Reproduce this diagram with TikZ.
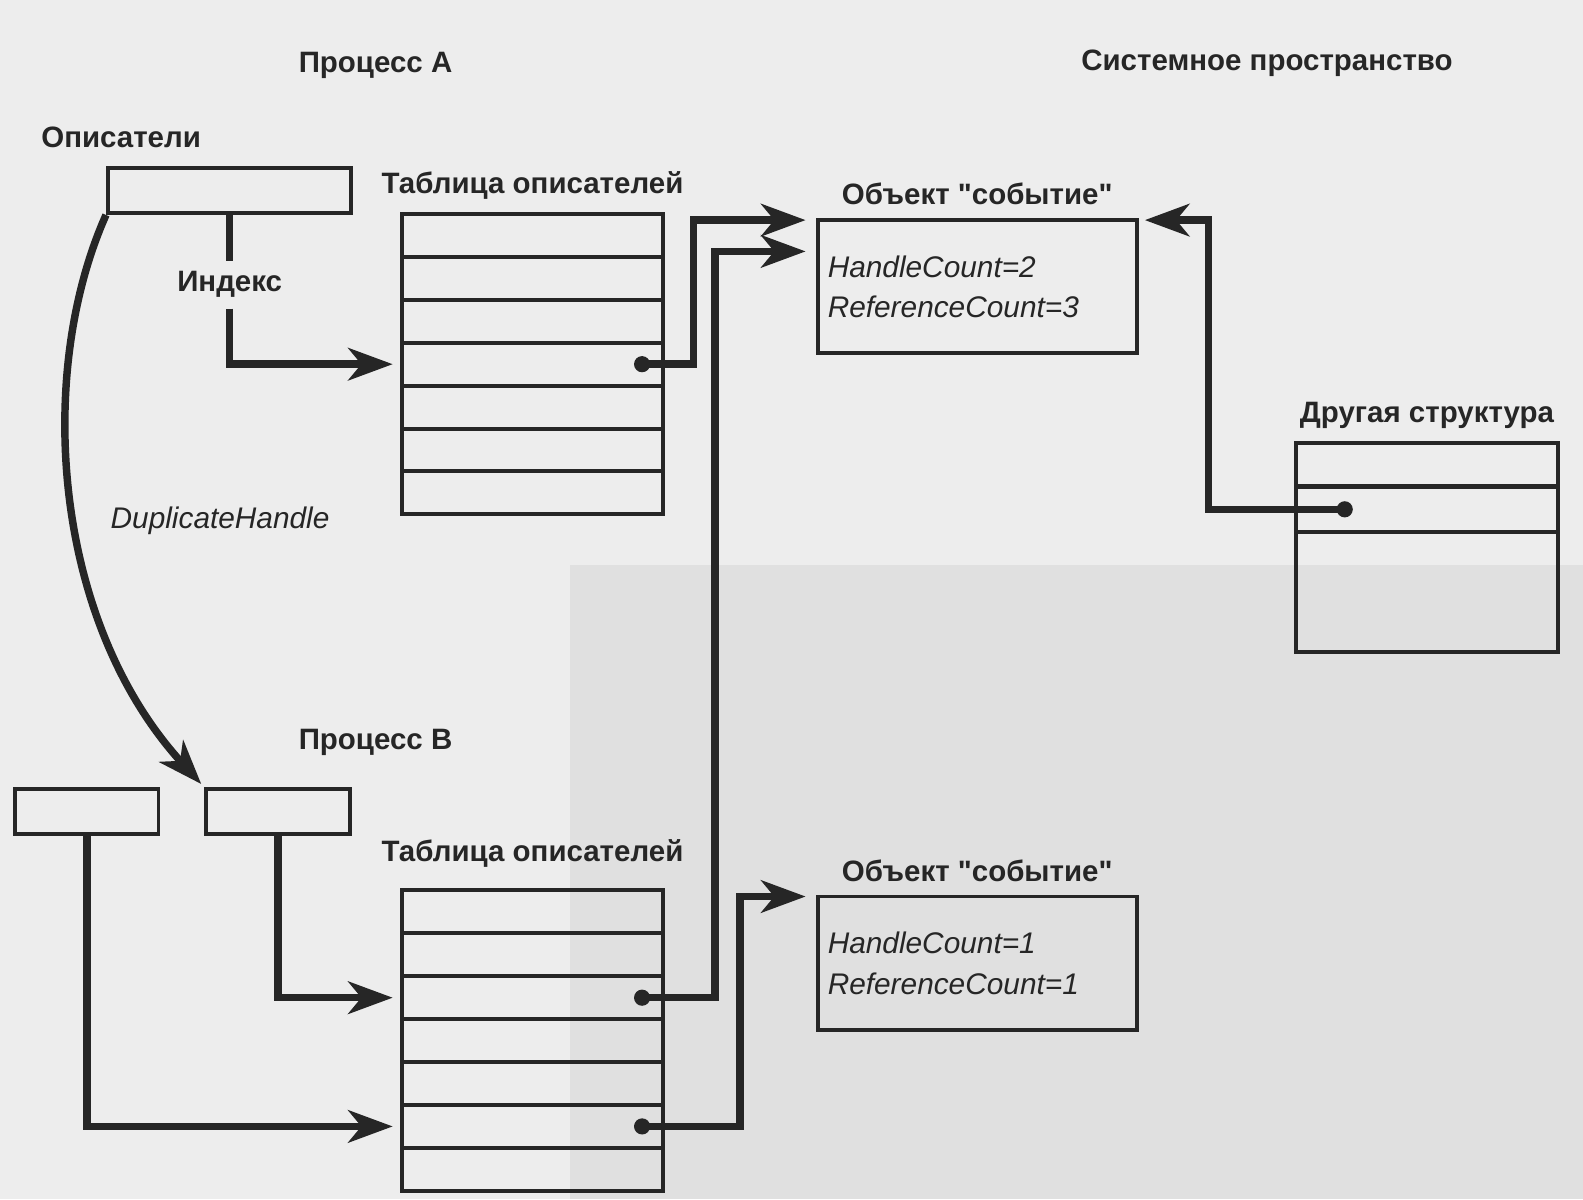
\documentclass[tikz,border=0pt]{standalone}
\usepackage{fontspec}
\setmainfont{Liberation Sans}
\usepackage{tikz}
\usetikzlibrary{arrows.meta,calc,positioning}
\colorlet{ink}{black!85}
\colorlet{paper}{black!7}
\colorlet{paperdark}{black!12}
\tikzset{
  lbl/.style={font=\bfseries\fontsize{8.3}{10}\selectfont,text=ink,inner sep=0pt},
  cnt/.style={font=\itshape\fontsize{8.4}{11.4}\selectfont,text=ink},
  hbox/.style={draw=ink,line width=1.1pt,minimum height=0.45cm,inner sep=0pt},
  rowcell/.style={draw=ink,line width=1.1pt,minimum width=2.59cm,minimum height=0.425cm,inner sep=0pt},
  evbox/.style={draw=ink,line width=1.1pt,cnt,minimum width=3.16cm,minimum height=1.32cm,
    text width=2.96cm,inner xsep=0.1cm,align=left},
  dot/.style={circle,fill=ink,inner sep=0pt,minimum size=0.16cm},
  wire/.style={draw=ink,line width=2.1pt},
  conn/.style={wire,-{Stealth[length=0.44cm,width=0.32cm,inset=0.13cm]}}
}
\newcommand{\qt}{\textquotedbl}

\begin{document}
\begin{tikzpicture}[x=0.01cm,y=-0.01cm]
\fill[paper] (0,0) rectangle (1568,1188);
\fill[paperdark] (565,560) rectangle (1568,1188);
\useasboundingbox (0,0) rectangle (1568,1188);
% process A
\node[lbl] (procA) at (372,65) {Процесс A};
\node[lbl] (sys) at (1255,63) {Системное пространство};
\node[lbl] (hdl) at (120,136) {Описатели};
\node[hbox,minimum width=2.41cm] (hA) at (227.5,188.5) {};
\node[lbl,inner ysep=0.1cm] (idx) at ($(hA.south)+(0,69)$) {Индекс};
\foreach \r in {1,...,7}
  \node[rowcell] (tA\r) at (527.5,{212+42.5*(\r-0.5)}) {};
\node[lbl,above=0.12cm of tA1] (tblA) {Таблица описателей};
% system space
\node[evbox] (evA) at (968,284) {HandleCount=2\\ReferenceCount=3};
\node[lbl,above=0.12cm of evA] (objA) {Объект \qt событие\qt};
\node[rowcell] (oS1) at (1413.5,460.5) {};
\node[rowcell,minimum height=0.45cm] (oS2) at (1413.5,504.5) {};
\node[rowcell,minimum height=1.19cm] (oS3) at (1413.5,586.5) {};
\node[lbl,above=0.12cm of oS1] (oth) {Другая структура};
% process B
\node[lbl] (procB) at (372,735) {Процесс B};
\node[hbox,minimum width=1.42cm] (hB1) at (86,804) {};
\node[hbox,minimum width=1.43cm] (hB2) at (275.5,804) {};
\foreach \r in {1,...,7}
  \node[rowcell] (tB\r) at (527.5,{882+42.5*(\r-0.5)}) {};
\node[lbl,above=0.2cm of tB1] (tblB) {Таблица описателей};
\node[evbox] (evB) at (968,954) {HandleCount=1\\ReferenceCount=1};
\node[lbl,above=0.12cm of evB] (objB) {Объект \qt событие\qt};
% pointers
\node[dot] (dA) at ($(tA4.east)+(-23,0)$) {};
\node[dot] (dB3) at ($(tB3.east)+(-23,0)$) {};
\node[dot] (dB6) at ($(tB6.east)+(-23,0)$) {};
\node[dot] (dS) at ($(oS2.west)+(50,0)$) {};
\draw[wire] (hA) -- (idx);
\draw[conn,shorten >=0.07cm] (idx) |- (tA4);
\draw[conn,shorten >=0.04cm] (hA.south west) .. controls (35,370) and (52,615) .. (hB2.north west);
\node[cnt] (dup) at (218,516) {DuplicateHandle};
\draw[conn,shorten >=0.07cm] (hB2) |- (tB3);
\draw[conn,shorten >=0.07cm] (hB1) |- (tB6);
\draw[conn] (dA.center) -- ++(51,0) |- ($(evA.north west)+(-10,2)$);
\draw[conn] (dB3.center) -- ++(72,0) |- ($(evA.north west)+(-10,33)$);
\draw[conn] (dB6.center) -- ++(97,0) |- ($(evB.north west)+(-10,2)$);
\draw[conn] (dS.center) -- ++(-135,0) |- ($(evA.north east)+(6,2)$);
\end{tikzpicture}
\end{document}
